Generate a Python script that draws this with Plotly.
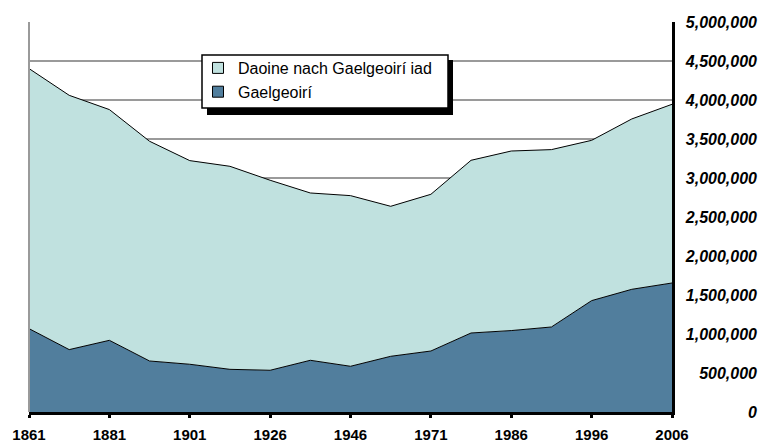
import plotly.graph_objects as go

years = ["1861", "1871", "1881", "1891", "1901", "1911", "1926", "1936", "1946",
         "1961", "1971", "1981", "1986", "1991", "1996", "2002", "2006"]
speakers = [1069000, 800000, 919000, 654000, 612000, 547000, 535000, 663000, 586000,
            714000, 782000, 1013000, 1044000, 1090000, 1428000, 1573000, 1654000]
non_speakers = [3334000, 3260000, 2958000, 2817000, 2611000, 2603000, 2436000, 2145000, 2188000,
                1923000, 2009000, 2214000, 2302000, 2274000, 2055000, 2184000, 2291000]
tick_years = years[::2]
y_ticks = [0, 500000, 1000000, 1500000, 2000000, 2500000, 3000000, 3500000, 4000000, 4500000, 5000000]
totals = [s + n for s, n in zip(speakers, non_speakers)]

LIGHT = "#C0E1DF"
DARK = "#517E9D"
FONT = "Liberation Sans, Arial, Helvetica, sans-serif"

W, H = 758, 442
ML, MR, MT, MB = 29, 0, 22, 30
PW = W - ML - MR
PH = H - MT - MB
PLOT_RIGHT = 672


def px_x(p):
    return (p - ML) / PW


def px_y(p):
    return (H - MB - p) / PH


fig = go.Figure()
fig.add_trace(go.Scatter(x=years, y=speakers, stackgroup="one", mode="lines",
                         line=dict(color="black", width=1), fillcolor=DARK,
                         name="Gaelgeoirí", showlegend=False, hoverinfo="skip"))
fig.add_trace(go.Scatter(x=years, y=non_speakers, stackgroup="one", mode="lines",
                         line=dict(color="black", width=1), fillcolor=LIGHT,
                         name="Daoine nach Gaelgeoirí iad", showlegend=False, hoverinfo="skip"))
# invisible copy on the label axis so it is drawn
fig.add_trace(go.Scatter(x=years, y=totals, yaxis="y2", mode="lines",
                         line=dict(width=0, color="rgba(0,0,0,0)"), opacity=0,
                         showlegend=False, hoverinfo="skip"))
# legend entries (square symbols)
fig.add_trace(go.Scatter(x=[None], y=[None], mode="markers", name="Gaelgeoirí",
                         marker=dict(symbol="square", size=11, color=DARK,
                                     line=dict(color="black", width=1))))
fig.add_trace(go.Scatter(x=[None], y=[None], mode="markers", name="Daoine nach Gaelgeoirí iad",
                         marker=dict(symbol="square", size=11, color=LIGHT,
                                     line=dict(color="black", width=1))))

fig.update_layout(
    width=W, height=H,
    margin=dict(l=ML, r=MR, t=MT, b=MB),
    paper_bgcolor="white", plot_bgcolor="white",
    font=dict(family=FONT, size=15, color="black"),
    xaxis=dict(type="category", range=[0, len(years) - 1],
               domain=[0, (PLOT_RIGHT - ML) / PW],
               tickvals=tick_years, showgrid=False,
               showline=True, linecolor="black", linewidth=3,
               ticks="outside", ticklen=3, tickwidth=3, tickcolor="black",
               tickfont=dict(family=FONT, size=15, weight="bold"),
               ticklabelstandoff=4, automargin=False, fixedrange=True),
    yaxis=dict(side="right", range=[0, 5000000], tickvals=y_ticks,
               showticklabels=False, showgrid=True, gridcolor="#9a9a9a", gridwidth=2,
               showline=True, linecolor="black", linewidth=2.5, zeroline=False,
               ticks="", automargin=False, fixedrange=True),
    yaxis2=dict(overlaying="y", side="left", anchor="free", position=px_x(757),
                range=[0, 5000000], tickvals=y_ticks, tickformat=",d",
                showgrid=False, showline=False, zeroline=False, ticks="",
                tickfont=dict(family=FONT, size=16, weight="bold", style="italic"),
                automargin=False, fixedrange=True),
    legend=dict(x=px_x(198), y=px_y(51), xanchor="left", yanchor="top",
                bgcolor="rgba(0,0,0,0)", borderwidth=0,
                font=dict(family=FONT, size=16), traceorder="reversed",
                itemwidth=30),
    shapes=[
        dict(type="line", xref="paper", yref="paper", x0=0, x1=0, y0=0, y1=1,
             line=dict(color="#9a9a9a", width=2), layer="above"),
        dict(type="rect", xref="paper", yref="paper",
             x0=px_x(207), x1=px_x(453), y0=px_y(115), y1=px_y(60),
             fillcolor="black", line=dict(width=0), layer="above"),
        dict(type="rect", xref="paper", yref="paper",
             x0=px_x(202), x1=px_x(448), y0=px_y(108), y1=px_y(55),
             fillcolor="white", line=dict(color="black", width=1.5), layer="above"),
    ],
    showlegend=True,
)

fig.write_html("out.html", config={"displayModeBar": False},
               post_script="document.body.style.margin='0';")
